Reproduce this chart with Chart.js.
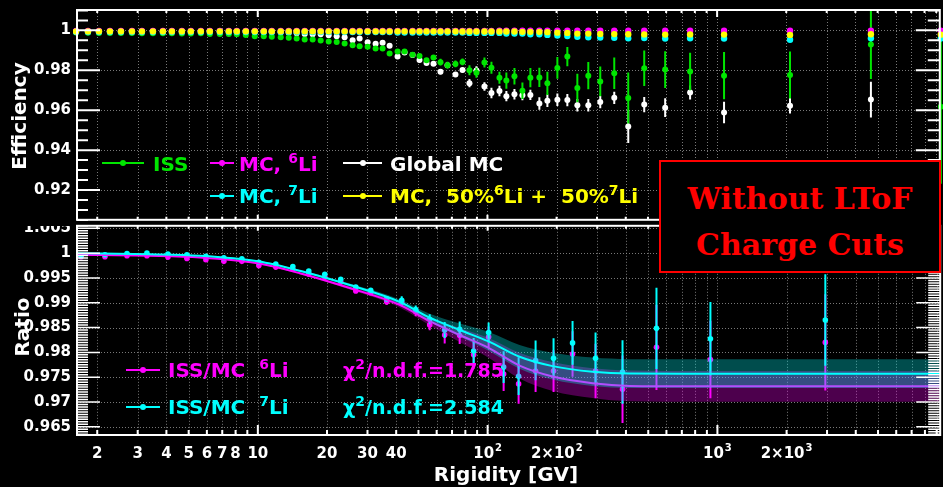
<!DOCTYPE html>
<html>
<head>
<meta charset="utf-8">
<title>Lithium charge cut efficiency</title>
<script src="https://cdn.jsdelivr.net/npm/chart.js@4/dist/chart.umd.min.js"></script>
<style>
  body { margin: 0; background: #000; }
  #plot {
    position: relative; width: 943px; height: 487px; overflow: hidden;
    background: #000; font-family: 'DejaVu Sans', sans-serif; font-weight: bold;
  }
  #plot canvas { position: absolute; left: 0; }
  .txt {
    position: absolute; white-space: nowrap; line-height: 1; font-size: 20px;
    transform: translateY(-50%);
  }
  .txt sup { font-size: 14px; vertical-align: baseline; position: relative; top: -8px; }
  .txt.chi { font-size: 19px; }
  .key-line { position: absolute; height: 2px; }
  .key-dot { position: absolute; width: 6px; height: 6px; border-radius: 50%; }
  .ytitle {
    position: absolute; white-space: nowrap; line-height: 1; font-size: 20px; color: #fff;
    transform: translate(-50%, -50%) rotate(-90deg);
  }
  #note {
    position: absolute; left: 659px; top: 160px; width: 282px; height: 113px;
    box-sizing: border-box; border: 2px solid #f00; background: #000;
    font-family: 'DejaVu Serif', serif; font-weight: bold; font-size: 30px; color: #f00;
  }
  #note span {
    position: absolute; left: 50%; white-space: nowrap; line-height: 1;
    transform: translate(-50%, -50%);
  }
</style>
</head>
<body>
<div id="plot">
  <canvas id="effChart" width="943" height="223" style="top:0"></canvas>
  <canvas id="ratioChart" width="943" height="264" style="top:223px"></canvas>
  <div class="ytitle" style="left:19px; top:116px">Efficiency</div>
  <div class="ytitle" style="left:22px; top:327px">Ratio</div>
  <div class="txt" style="left:506px; top:474px; transform:translate(-50%,-50%); color:#fff">Rigidity [GV]</div>
  <div id="note">
    <span style="top:37px">Without LToF</span>
    <span style="top:83px">Charge Cuts</span>
  </div>
</div>
<script>
// ---- axis ranges ----
const X_MIN = 1.633, X_MAX = 9323;
const EFF_MIN = 0.9051, EFF_MAX = 1.0102;
const RATIO_MIN = 0.96335, RATIO_MAX = 1.00551;

const effTickValues = [0.92, 0.94, 0.96, 0.98, 1.0];
const effTickLabels = ['0.92', '0.94', '0.96', '0.98', '1'];
const ratioTickValues = [0.965, 0.97, 0.975, 0.98, 0.985, 0.99, 0.995, 1.0, 1.005];
const ratioTickLabels = ['0.965', '0.97', '0.975', '0.98', '0.985', '0.99', '0.995', '1', '1.005'];
const rigidityTickValues = [2, 3, 4, 5, 6, 7, 8, 10, 20, 30, 40, 100, 200, 1000, 2000];
const rigidityTickLabels = ['2', '3', '4', '5', '6', '7', '8', '10', '20', '30', '40', '10^2', '2×10^2', '10^3', '2×10^3'];

// ---- efficiency panel (fine binning) ----
const effRigidity = [1.617, 1.823, 2.035, 2.272, 2.537, 2.833, 3.131, 3.496, 3.864, 4.228,
  4.673, 5.113, 5.651, 6.184, 6.836, 7.479, 8.103, 8.869, 9.705, 10.62,
  11.51, 12.59, 13.64, 14.77, 16.01, 17.34, 18.79, 20.36, 22.06, 23.89,
  25.88, 27.77, 30.08, 32.59, 34.96, 37.50, 40.62, 43.57, 47.20, 50.62,
  54.30, 58.24, 62.47, 67.01, 72.58, 77.86, 83.51, 89.58, 97.05, 104.1,
  112.8, 120.9, 131.1, 142.0, 153.8, 168.3, 182.4, 201.6, 222.8, 246.3,
  274.9, 309.9, 356.6, 410.3, 481.6, 594.1, 762.8, 1072, 2077, 4673, 9417];

const issEff = [0.99896, 0.99886, 0.99872, 0.99872, 0.99872, 0.99872, 0.99852, 0.99852, 0.99852, 0.99852,
  0.99837, 0.99837, 0.99852, 0.99822, 0.99822, 0.99822, 0.99803, 0.99773, 0.99704, 0.99704,
  0.99674, 0.99655, 0.99625, 0.99590, 0.99541, 0.99541, 0.99492, 0.99442, 0.99418, 0.99344,
  0.99260, 0.99210, 0.99181, 0.99097, 0.99097, 0.98835, 0.98939, 0.98939, 0.98776, 0.98717,
  0.98505, 0.98638, 0.98406, 0.98258, 0.98317, 0.98421, 0.97996, 0.97878, 0.98391, 0.98125,
  0.97626, 0.97483, 0.97700, 0.96975, 0.97631, 0.97641, 0.97345, 0.98120, 0.98687, 0.97113,
  0.97730, 0.97444, 0.97853, 0.96615, 0.98100, 0.98036, 0.97937, 0.97730, 0.97764, 0.99294, 0.96170];
const issErr = [0.0003, 0.0003, 0.0003, 0.0003, 0.0003, 0.0003, 0.0003, 0.0003, 0.0003, 0.0003,
  0.0003, 0.0003, 0.0003, 0.0003, 0.0003, 0.0003, 0.0003, 0.0003, 0.0003, 0.0003,
  0.0003, 0.0003, 0.0003, 0.0003, 0.0003, 0.0003, 0.0005, 0.0005, 0.0005, 0.0005,
  0.0005, 0.0005, 0.0005, 0.0005, 0.0005, 0.001, 0.001, 0.001, 0.001, 0.001,
  0.001, 0.001, 0.0017, 0.0017, 0.0017, 0.0017, 0.0025, 0.0025, 0.0025, 0.003,
  0.003, 0.0041, 0.0041, 0.0041, 0.0048, 0.0048, 0.0058, 0.0054, 0.0048, 0.0071,
  0.0068, 0.0074, 0.0079, 0.0128, 0.0089, 0.0092, 0.0094, 0.0118, 0.0118, 0.0173, 0.0385];

const globalMcEff = [0.99951, 0.99951, 0.99951, 0.99951, 0.99951, 0.99951, 0.99951, 0.99951, 0.99951, 0.99951,
  0.99951, 0.99951, 0.99951, 0.99951, 0.99951, 0.99951, 0.99936, 0.99936, 0.99936, 0.99936,
  0.99921, 0.99901, 0.99886, 0.99852, 0.99822, 0.99803, 0.99803, 0.99753, 0.99704, 0.99655,
  0.99507, 0.99590, 0.99408, 0.99329, 0.99378, 0.99230, 0.98687, 0.98885, 0.98766, 0.98515,
  0.98367, 0.98332, 0.97927, 0.98248, 0.97789, 0.98011, 0.97355, 0.97987, 0.97187, 0.96861,
  0.96965, 0.96703, 0.96802, 0.96753, 0.96768, 0.96333, 0.96471, 0.96521, 0.96506, 0.96249,
  0.96249, 0.96407, 0.96620, 0.95183, 0.96284, 0.96126, 0.96891, 0.95889, 0.96220, 0.96531, null];
const globalMcErr = [0.0003, 0.0003, 0.0003, 0.0003, 0.0003, 0.0003, 0.0003, 0.0003, 0.0003, 0.0003,
  0.0003, 0.0003, 0.0003, 0.0003, 0.0003, 0.0003, 0.0003, 0.0003, 0.0003, 0.0003,
  0.0003, 0.0003, 0.0003, 0.0003, 0.0003, 0.0003, 0.0003, 0.0003, 0.0003, 0.0003,
  0.0003, 0.0003, 0.0003, 0.0003, 0.0003, 0.0003, 0.0012, 0.0012, 0.0012, 0.0012,
  0.0012, 0.0012, 0.0012, 0.0012, 0.0012, 0.0012, 0.0021, 0.0021, 0.0021, 0.0026,
  0.0026, 0.0026, 0.0026, 0.0026, 0.0026, 0.0031, 0.0031, 0.0031, 0.0031, 0.0031,
  0.0031, 0.0031, 0.0031, 0.0082, 0.0038, 0.0047, 0.0035, 0.0054, 0.0039, 0.0089, 0];

const mcLi6Eff = [0.99970, 0.99970, 0.99970, 0.99970, 0.99970, 0.99970, 0.99970, 0.99970, 0.99970, 0.99970,
  0.99970, 0.99970, 0.99970, 0.99970, 0.99970, 0.99970, 0.99970, 0.99970, 0.99970, 0.99970,
  0.99970, 0.99970, 0.99970, 0.99970, 0.99970, 0.99970, 0.99970, 0.99970, 0.99970, 0.99970,
  0.99970, 0.99970, 0.99970, 0.99970, 0.99970, 0.99970, 0.99970, 0.99970, 0.99970, 0.99970,
  0.99970, 0.99970, 0.99970, 0.99970, 0.99970, 0.99970, 0.99970, 0.99970, 0.99970, 0.99970,
  0.99985, 0.99985, 0.99985, 0.99985, 0.99985, 0.99985, 0.99985, 0.99985, 0.99985, 0.99985,
  0.99985, 0.99985, 0.99985, 0.99985, 0.99985, 0.99985, 0.99985, 0.99985, 0.99985, 0.99985, 0.99985];
const mcLi7Eff = [0.99921, 0.99921, 0.99921, 0.99921, 0.99921, 0.99921, 0.99921, 0.99921, 0.99921, 0.99921,
  0.99921, 0.99921, 0.99921, 0.99921, 0.99921, 0.99921, 0.99921, 0.99921, 0.99921, 0.99921,
  0.99921, 0.99921, 0.99921, 0.99921, 0.99921, 0.99921, 0.99921, 0.99921, 0.99921, 0.99921,
  0.99921, 0.99921, 0.99921, 0.99921, 0.99921, 0.99921, 0.99896, 0.99896, 0.99896, 0.99896,
  0.99896, 0.99896, 0.99896, 0.99896, 0.99896, 0.99896, 0.99872, 0.99872, 0.99872, 0.99872,
  0.99872, 0.99837, 0.99837, 0.99837, 0.99803, 0.99803, 0.99773, 0.99738, 0.99714, 0.99674,
  0.99655, 0.99640, 0.99625, 0.99605, 0.99615, 0.99590, 0.99605, 0.99590, 0.99526, 0.99605, 0.99590];
const mcMixEff = [0.99951, 0.99951, 0.99951, 0.99951, 0.99951, 0.99951, 0.99951, 0.99951, 0.99951, 0.99951,
  0.99951, 0.99951, 0.99951, 0.99951, 0.99951, 0.99951, 0.99951, 0.99951, 0.99951, 0.99951,
  0.99951, 0.99951, 0.99951, 0.99951, 0.99951, 0.99951, 0.99951, 0.99951, 0.99951, 0.99951,
  0.99951, 0.99951, 0.99951, 0.99951, 0.99951, 0.99951, 0.99951, 0.99951, 0.99951, 0.99951,
  0.99951, 0.99951, 0.99951, 0.99951, 0.99951, 0.99941, 0.99941, 0.99941, 0.99941, 0.99941,
  0.99941, 0.99941, 0.99941, 0.99926, 0.99926, 0.99926, 0.99911, 0.99886, 0.99872, 0.99837,
  0.99837, 0.99822, 0.99812, 0.99803, 0.99798, 0.99788, 0.99798, 0.99788, 0.99773, 0.99803, 0.99788];

// ---- ratio panel (coarse binning) ----
const ratioRigidity = [1.700, 2.161, 2.695, 3.291, 4.061, 4.912, 5.941, 7.114, 8.520, 10.10,
  11.97, 14.20, 16.66, 19.56, 22.95, 26.68, 30.99, 36.38, 42.28, 48.64,
  55.95, 65.03, 75.56, 86.94, 101.0, 117.4, 136.4, 161.7, 193.6, 234.2,
  294.9, 386.4, 543.0, 932.4, 2949];
const ratioLi7 = [0.99948, 0.99968, 0.99994, 1.0000, 0.99980, 0.99968, 0.99934, 0.99908, 0.99884, 0.99815,
  0.99779, 0.99729, 0.99641, 0.99576, 0.99472, 0.99317, 0.99253, 0.99078, 0.99052, 0.98865,
  0.98669, 0.98450, 0.98464, 0.98028, 0.98400, 0.97703, 0.97520, 0.97837, 0.97883, 0.98191,
  0.97883, 0.97604, 0.98484, 0.98275, 0.98653];
const ratioLi7Err = [0.0001, 0.0001, 0.0001, 0.0001, 0.0001, 0.0001, 0.0001, 0.0001, 0.0001, 0.0001,
  0.0001, 0.0001, 0.0001, 0.0001, 0.0001, 0.0004, 0.0004, 0.0006, 0.0008, 0.0008,
  0.001, 0.0016, 0.0016, 0.0026, 0.002, 0.0032, 0.0038, 0.004, 0.004, 0.0044,
  0.0052, 0.0064, 0.0082, 0.0074, 0.0092];
const ratioLi6 = [0.99928, 0.99928, 0.99948, 0.99948, 0.99920, 0.99894, 0.99869, 0.99835, 0.99835, 0.99749,
  0.99719, 0.99675, 0.99582, 0.99516, 0.99416, 0.99237, 0.99203, 0.99018, 0.99008, 0.98819,
  0.98554, 0.98351, 0.98341, 0.97952, 0.98311, 0.97564, 0.97365, 0.97624, 0.97624, 0.97968,
  0.97624, 0.97259, 0.98102, 0.97857, 0.98201];
const ratioLi6Err = [0.0001, 0.0001, 0.0001, 0.0001, 0.0001, 0.0001, 0.0001, 0.0001, 0.0001, 0.0001,
  0.0001, 0.0001, 0.0001, 0.0001, 0.0001, 0.0004, 0.0004, 0.0006, 0.0008, 0.0009,
  0.0011, 0.0017, 0.0017, 0.0028, 0.0021, 0.0034, 0.004, 0.0042, 0.0042, 0.0046,
  0.0055, 0.0068, 0.0086, 0.0078, 0.0097];

// fitted ratio curves with their uncertainty bands
const fitRigidity = [1.633, 3.392, 5.595, 10.0, 15.22, 25.12, 41.44, 55.95, 75.56, 101.0,
  137.7, 191.7, 286.1, 414.4, 835.3, 9400];
const fitLi7 = [0.99998, 0.99978, 0.99948, 0.99835, 0.99645, 0.99357, 0.99018, 0.98699, 0.98450, 0.98221,
  0.97911, 0.97723, 0.97610, 0.97574, 0.97570, 0.97570];
const fitLi7Up = [1.0001, 0.9999, 0.9996, 0.99851, 0.99665, 0.99387, 0.99068, 0.98779, 0.98580, 0.98411,
  0.98151, 0.97993, 0.97895, 0.97864, 0.97860, 0.97860];
const fitLi7Lo = [0.99986, 0.99966, 0.99936, 0.99819, 0.99625, 0.99327, 0.98968, 0.98619, 0.98320, 0.98031,
  0.97671, 0.97453, 0.97325, 0.97284, 0.97280, 0.97280];
const fitLi6 = [0.99968, 0.99948, 0.99914, 0.99795, 0.99596, 0.99297, 0.98957, 0.98629, 0.98351, 0.98092,
  0.97733, 0.97514, 0.97380, 0.97325, 0.97315, 0.97315];
const fitLi6Up = [0.9998, 0.9996, 0.99926, 0.99811, 0.99616, 0.99327, 0.99007, 0.98709, 0.98491, 0.98292,
  0.97993, 0.97804, 0.9768, 0.97635, 0.97625, 0.97625];
const fitLi6Lo = [0.99956, 0.99936, 0.99902, 0.99779, 0.99576, 0.99267, 0.98907, 0.98549, 0.98211, 0.97892,
  0.97473, 0.97224, 0.9708, 0.97015, 0.97005, 0.97005];

const GREEN = '#00e600', MAGENTA = '#ff00ff', CYAN = '#00ffff', YELLOW = '#ffff00', WHITE = '#ffffff';
const FONT = '"DejaVu Sans", sans-serif';

/* ---------- helpers ---------- */

function pointSet(label, rig, vals, errs, color, order, radius) {
    const data = [];
    rig.forEach((r, i) => {
        if (vals[i] !== null) data.push({ x: r, y: vals[i], e: errs ? errs[i] : 0 });
    });
    return {
        label: label, data: data, order: order,
        showLine: false, pointRadius: radius, pointHoverRadius: radius,
        pointBorderWidth: 0, backgroundColor: color, borderColor: color,
        errColor: color, clip: 4
    };
}

function curveSet(label, rig, vals, color, width, order, fill) {
    return {
        type: 'line', label: label, order: order,
        data: rig.map((r, i) => ({ x: r, y: vals[i] })),
        borderColor: color, borderWidth: width,
        backgroundColor: fill || 'transparent',
        fill: fill ? '+1' : false,
        pointRadius: 0, pointHoverRadius: 0,
        cubicInterpolationMode: 'monotone'
    };
}

// all k x 10^n values inside the log axis
function decadeTicks(scale) {
    const out = [];
    for (let d = 1; d <= 10000; d *= 10) {
        for (let k = 1; k <= 9; k++) {
            const v = k * d;
            if (v >= scale.min && v <= scale.max) out.push({ v: v, major: k === 1 });
        }
    }
    return out;
}

// vertical error bars, drawn just before each dataset's markers
const errorBars = {
    id: 'errorBars',
    beforeDatasetDraw(chart, args) {
        const ds = chart.data.datasets[args.index];
        if (!ds.errColor) return;
        const { ctx, chartArea: a, scales: { x, y } } = chart;
        ctx.save();
        ctx.beginPath();
        ctx.rect(a.left - 4, a.top, a.right - a.left + 8, a.bottom - a.top);
        ctx.clip();
        ctx.strokeStyle = ds.errColor;
        ctx.lineWidth = 2;
        ctx.beginPath();
        ds.data.forEach(p => {
            if (!p.e) return;
            const px = x.getPixelForValue(p.x);
            ctx.moveTo(px, y.getPixelForValue(p.y + p.e));
            ctx.lineTo(px, y.getPixelForValue(p.y - p.e));
        });
        ctx.stroke();
        ctx.restore();
    }
};

// frame, inward ticks, dotted grid and tick labels
function panelAxes(o) {
    return {
        id: 'panelAxes',
        beforeDatasetsDraw(chart) {
            const { ctx, chartArea: a, scales: { x, y } } = chart;
            ctx.save();
            ctx.strokeStyle = 'rgba(150,150,150,0.8)';
            ctx.lineWidth = 1;
            ctx.setLineDash([1, 2]);
            ctx.beginPath();
            decadeTicks(x).forEach(t => {
                const px = Math.round(x.getPixelForValue(t.v)) + 0.5;
                ctx.moveTo(px, a.top);
                ctx.lineTo(px, a.bottom);
            });
            o.yMajor.forEach(v => {
                const py = Math.round(y.getPixelForValue(v)) + 0.5;
                ctx.moveTo(a.left, py);
                ctx.lineTo(a.right, py);
            });
            ctx.stroke();
            ctx.restore();
        },
        afterDatasetsDraw(chart) {
            const { ctx, chartArea: a, scales: { x, y } } = chart;
            ctx.save();
            ctx.strokeStyle = WHITE;
            ctx.fillStyle = WHITE;

            // x ticks on upper and lower edges
            ctx.lineWidth = 2;
            ctx.beginPath();
            decadeTicks(x).forEach(t => {
                const px = x.getPixelForValue(t.v);
                ctx.moveTo(px, a.top);
                ctx.lineTo(px, a.top + o.topLen[t.major ? 1 : 0]);
                ctx.moveTo(px, a.bottom);
                ctx.lineTo(px, a.bottom - o.bottomLen[t.major ? 1 : 0]);
            });
            ctx.stroke();

            // y ticks on both sides
            ctx.lineWidth = o.yTickWidth;
            ctx.beginPath();
            const n = Math.floor((y.max - o.yStart) / o.yStep + 1e-6);
            for (let i = 0; i <= n; i++) {
                const v = o.yStart + i * o.yStep;
                const major = o.yMajor.some(m => Math.abs(m - v) < o.yStep / 10);
                const py = y.getPixelForValue(v);
                ctx.moveTo(a.left, py);
                ctx.lineTo(a.left + (major ? 23 : 11), py);
                ctx.moveTo(a.right, py);
                ctx.lineTo(a.right - (major ? 24 : 12), py);
            }
            ctx.stroke();

            ctx.lineWidth = 2;
            ctx.strokeRect(a.left, a.top, a.right - a.left, a.bottom - a.top);

            // y labels; the upper panel hides the top of the first one
            ctx.save();
            ctx.beginPath();
            ctx.rect(0, o.labelTop || 0, a.left, chart.height);
            ctx.clip();
            ctx.font = 'bold 15px ' + FONT;
            ctx.textAlign = 'right';
            ctx.textBaseline = 'middle';
            o.yMajor.forEach((v, i) => {
                ctx.fillText(o.yLabels[i], a.left - 6, y.getPixelForValue(v));
            });
            ctx.restore();

            // x labels with raised exponents
            if (o.xValues) {
                ctx.textAlign = 'left';
                ctx.textBaseline = 'alphabetic';
                o.xValues.forEach((v, i) => {
                    const parts = o.xLabels[i].split('^');
                    ctx.font = 'bold 15px ' + FONT;
                    const wb = ctx.measureText(parts[0]).width;
                    ctx.font = 'bold 10px ' + FONT;
                    const ws = parts[1] ? ctx.measureText(parts[1]).width + 1 : 0;
                    const left = x.getPixelForValue(v) - (wb + ws) / 2;
                    const base = a.bottom + 23;
                    ctx.font = 'bold 15px ' + FONT;
                    ctx.fillText(parts[0], left, base);
                    if (parts[1]) {
                        ctx.font = 'bold 10px ' + FONT;
                        ctx.fillText(parts[1], left + wb + 1, base - 7);
                    }
                });
            }
            ctx.restore();
        }
    };
}

function baseOptions(padding, yMin, yMax) {
    return {
        responsive: false,
        animation: false,
        devicePixelRatio: 1,
        layout: { padding: padding },
        plugins: { legend: { display: false }, tooltip: { enabled: false } },
        scales: {
            x: { type: 'logarithmic', min: X_MIN, max: X_MAX, display: false },
            y: { type: 'linear', min: yMin, max: yMax, display: false }
        }
    };
}

/* ---------- efficiency panel ---------- */

new Chart(document.getElementById('effChart'), {
    type: 'scatter',
    data: {
        datasets: [
            pointSet('MC, 50% 6Li + 50% 7Li', effRigidity, mcMixEff, null, YELLOW, 0, 3.2),
            pointSet('MC, 6Li', effRigidity, mcLi6Eff, null, MAGENTA, 1, 3.2),
            pointSet('MC, 7Li', effRigidity, mcLi7Eff, null, CYAN, 2, 3.2),
            pointSet('ISS', effRigidity, issEff, issErr, GREEN, 3, 3),
            pointSet('Global MC', effRigidity, globalMcEff, globalMcErr, WHITE, 4, 3)
        ]
    },
    options: baseOptions({ left: 77, right: 2, top: 10, bottom: 0 }, EFF_MIN, EFF_MAX),
    plugins: [errorBars, panelAxes({
        yMajor: effTickValues, yLabels: effTickLabels,
        yStart: 0.905, yStep: 0.005, yTickWidth: 2,
        topLen: [3, 7], bottomLen: [3, 5]
    })]
});

/* ---------- ratio panel ---------- */

new Chart(document.getElementById('ratioChart'), {
    type: 'scatter',
    data: {
        datasets: [
            curveSet('fit 7Li', fitRigidity, fitLi7, CYAN, 2, 0),
            curveSet('band 7Li up', fitRigidity, fitLi7Up, 'transparent', 0, 1, 'rgba(0,255,255,0.3)'),
            curveSet('band 7Li low', fitRigidity, fitLi7Lo, 'transparent', 0, 1),
            curveSet('fit 6Li', fitRigidity, fitLi6, MAGENTA, 2, 2),
            curveSet('band 6Li up', fitRigidity, fitLi6Up, 'transparent', 0, 3, 'rgba(255,0,255,0.3)'),
            curveSet('band 6Li low', fitRigidity, fitLi6Lo, 'transparent', 0, 3),
            pointSet('ISS/MC 7Li', ratioRigidity, ratioLi7, ratioLi7Err, CYAN, 4, 2.8),
            pointSet('ISS/MC 6Li', ratioRigidity, ratioLi6, ratioLi6Err, MAGENTA, 5, 2.8)
        ]
    },
    options: baseOptions({ left: 77, right: 2, top: 0, bottom: 52 }, RATIO_MIN, RATIO_MAX),
    plugins: [errorBars, panelAxes({
        yMajor: ratioTickValues, yLabels: ratioTickLabels,
        yStart: 0.9635, yStep: 0.0005, yTickWidth: 1.5,
        topLen: [3, 5], bottomLen: [5, 10], labelTop: 3,
        xValues: rigidityTickValues, xLabels: rigidityTickLabels
    })]
});

/* ---------- legends ---------- */

const plot = document.getElementById('plot');

function addKey(x1, x2, y, color) {
    const line = document.createElement('div');
    line.className = 'key-line';
    line.style.cssText = `left:${x1}px; top:${y - 1}px; width:${x2 - x1}px; background:${color}`;
    const dot = document.createElement('div');
    dot.className = 'key-dot';
    dot.style.cssText = `left:${(x1 + x2) / 2 - 3}px; top:${y - 3}px; background:${color}`;
    plot.appendChild(line);
    plot.appendChild(dot);
}

function addText(html, x, y, color, cls) {
    const t = document.createElement('div');
    t.className = 'txt' + (cls ? ' ' + cls : '');
    t.style.cssText = `left:${x}px; top:${y}px; color:${color}`;
    t.innerHTML = html;
    plot.appendChild(t);
}

addKey(102, 144, 163, GREEN);
addText('ISS', 153, 164, GREEN);
addKey(210, 234, 163, MAGENTA);
addText('MC, <sup>6</sup>Li', 239, 164, MAGENTA);
addKey(343, 382, 163, WHITE);
addText('Global MC', 390, 164, WHITE);
addKey(210, 234, 196, CYAN);
addText('MC, <sup>7</sup>Li', 239, 196, CYAN);
addKey(343, 382, 196, YELLOW);
addText('MC,&nbsp; 50%<sup>6</sup>Li +&nbsp; 50%<sup>7</sup>Li', 390, 196, YELLOW);

addKey(126, 160, 370, MAGENTA);
addText('ISS/MC&nbsp; <sup>6</sup>Li', 168, 370, MAGENTA);
addKey(126, 160, 407, CYAN);
addText('ISS/MC&nbsp; <sup>7</sup>Li', 168, 407, CYAN);
addText('χ<sup>2</sup>/n.d.f.=1.785', 343, 370, MAGENTA, 'chi');
addText('χ<sup>2</sup>/n.d.f.=2.584', 343, 407, CYAN, 'chi');
</script>
</body>
</html>
